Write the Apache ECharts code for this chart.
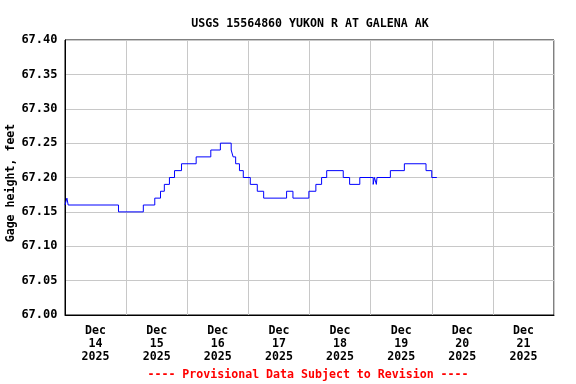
<!DOCTYPE html>
<html>
<head>
<meta charset="utf-8">
<script src="https://cdn.jsdelivr.net/npm/echarts@6/dist/echarts.min.js"></script>
<style>html,body{margin:0;padding:0;background:#fff}#c{width:576px;height:384px}</style>
</head>
<body>
<div id="c"></div>
<script>
// Change times (Dec 2025, "day hh:mm") and gage height values (feet)
var changeTimes = [
  "14 00:00","14 00:45","14 01:15","14 21:00","15 06:45","15 11:15","15 13:30","15 15:00",
  "15 17:00","15 19:00","15 21:45","16 03:30","16 09:15","16 13:00","16 17:15","16 18:00",
  "16 19:00","16 20:30","16 22:00","17 00:45","17 03:30","17 06:00","17 15:00","17 17:30",
  "17 23:45","18 02:30","18 04:45","18 06:45","18 13:15","18 15:45","18 19:45","19 01:00",
  "19 01:30","19 02:15","19 02:30","19 07:45","19 13:15","19 21:45","20 00:00","20 02:00"
];
var gageHeight = [
  67.16,67.17,67.16,67.15,67.16,67.17,67.18,67.19,
  67.20,67.21,67.22,67.23,67.24,67.25,67.24,67.23,
  67.22,67.21,67.20,67.19,67.18,67.17,67.18,67.17,
  67.18,67.19,67.20,67.21,67.20,67.19,67.20,67.19,
  67.20,67.19,67.20,67.21,67.22,67.21,67.20,67.20
];
var dayLabels = ["Dec\n14\n2025","Dec\n15\n2025","Dec\n16\n2025","Dec\n17\n2025","Dec\n18\n2025","Dec\n19\n2025","Dec\n20\n2025","Dec\n21\n2025"];

function toHours(s){
  var d = parseInt(s.slice(0,2),10), hh = parseInt(s.slice(3,5),10), mm = parseInt(s.slice(6,8),10);
  return (d-14)*24 + hh + mm/60;
}
var seriesData = changeTimes.map(function(t,i){ return [toHours(t), gageHeight[i]]; });

var font = '"DejaVu Sans Mono", monospace';
var chart = echarts.init(document.getElementById('c'), null, {renderer:'canvas'});
chart.setOption({
  animation:false,
  backgroundColor:'#fff',
  title:{
    text:'USGS 15564860 YUKON R AT GALENA AK',
    left:305, top:13, textAlign:'center',
    textStyle:{fontFamily:font, fontWeight:'bold', fontSize:11.6, color:'#000'}
  },
  graphic:[{
    type:'text', x:308, y:375,
    style:{text:'---- Provisional Data Subject to Revision ----', fill:'#ff0000',
      font:'bold 11.6px "DejaVu Sans Mono", monospace', align:'center', verticalAlign:'middle'}
  },{
    type:'text', x:11, y:183, rotation:Math.PI/2,
    style:{text:'Gage height, feet', fill:'#000',
      font:'bold 11.6px "DejaVu Sans Mono", monospace', align:'center', verticalAlign:'middle'}
  }],
  grid:{left:65, right:22, top:40, bottom:69, show:true, borderColor:'#000', borderWidth:1,
    backgroundColor:'transparent', containLabel:false, outerBoundsMode:'none'},
  xAxis:[{
    type:'value', min:0, max:192, interval:24,
    axisLine:{show:true, lineStyle:{color:'#000', width:1}}, axisTick:{show:false}, axisLabel:{show:false},
    splitLine:{show:true, lineStyle:{color:'#c8c8c8', width:1}}
  },{
    type:'category', data:dayLabels, boundaryGap:true, position:'bottom',
    axisLine:{show:false}, axisTick:{show:false}, splitLine:{show:false},
    axisLabel:{fontFamily:font, fontWeight:'bold', fontSize:11.6, color:'#000', lineHeight:13, margin:9, interval:0}
  }],
  yAxis:{
    type:'value', min:67.00, max:67.40, interval:0.05,
    axisLine:{show:true, lineStyle:{color:'#000', width:1}}, axisTick:{show:false},
    axisLabel:{fontFamily:font, fontWeight:'bold', fontSize:12, color:'#000', margin:7.5,
      formatter:function(v){ return v.toFixed(2); }},
    splitLine:{show:true, lineStyle:{color:'#c8c8c8', width:1}}
  },
  series:[{
    type:'line', xAxisIndex:0, data:seriesData, step:'end', symbol:'none',
    lineStyle:{color:'#0000ff', width:1}
  }]
});
</script>
</body>
</html>
